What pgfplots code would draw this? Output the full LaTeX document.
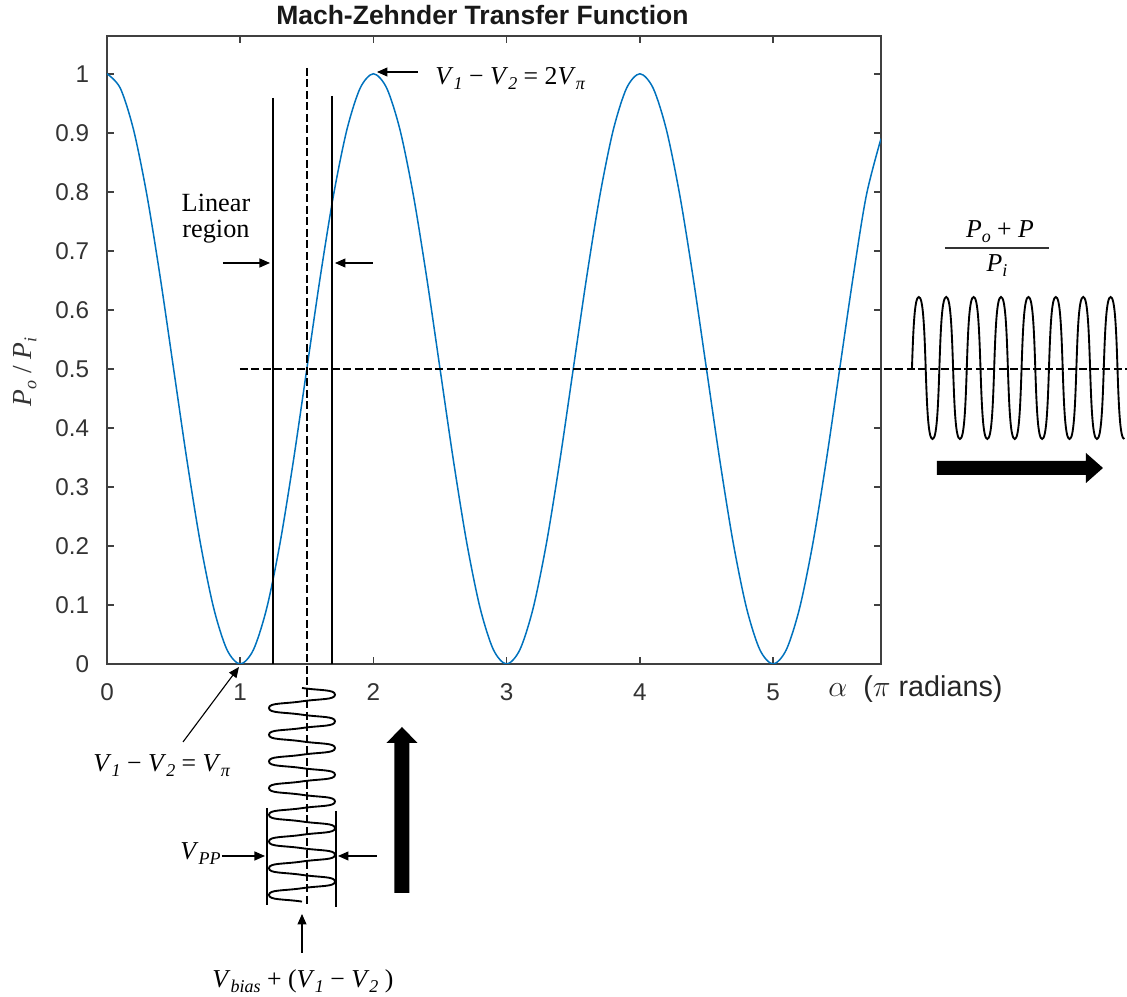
\documentclass[border=0pt]{standalone}
\usepackage{fontspec}
\setmainfont{Liberation Sans}
\newfontfamily\tnr{Liberation Serif}
\usepackage{graphicx}
\usepackage{pgfplots}
\pgfplotsset{compat=1.18}
\usetikzlibrary{arrows.meta}
\definecolor{mblue}{rgb}{0,0.447,0.741}
\definecolor{axgray}{gray}{0.25}
\newcommand{\ann}{\tnr\fontsize{10.3}{12}\selectfont}
\newcommand{\sub}[1]{\raisebox{-0.4ex}{\fontsize{7.2}{8}\selectfont #1}}
\newcommand{\V}[1]{\textit{V}\sub{\textit{#1}}}
\newcommand{\Pp}[1]{\textit{P}\sub{\textit{#1}}}

\begin{document}
\begin{tikzpicture}
\path[use as bounding box] (-42.8pt,-133.2pt) rectangle (408pt,265.6pt);
\begin{axis}[
  at={(0,0)}, anchor=south west,
  scale only axis, width=309.6pt, height=251.2pt,
  xmin=0, xmax=5.81, ymin=0, ymax=1.064,
  xtick={0,1,2,3,4,5},
  ytick={0,0.1,0.2,0.3,0.4,0.5,0.6,0.7,0.8,0.9,1},
  tick align=inside, major tick length=2.8pt,
  axis line style={axgray, line width=0.6pt},
  tick style={axgray, line width=0.6pt},
  ticklabel style={font=\fontsize{9.7}{11}\selectfont, text=black!80},
  /pgf/number format/assume math mode=true,
  yticklabel style={xshift=-3.6pt},
  xticklabel style={yshift=-4.4pt},
  title={Mach-Zehnder Transfer Function},
  every axis title/.style={at={(axis description cs:0.485,1)}, anchor=base, yshift=4.4pt, inner sep=0pt, font=\bfseries\fontsize{10.6}{12}\selectfont, text=black!90},
  xlabel={$\alpha$\ \ ($\pi$ radians)},
  xlabel style={at={(axis description cs:0.9315,-0.0525)}, anchor=base west, inner sep=0pt, font=\fontsize{11.5}{13}\selectfont, text=black!85},
  ylabel={\Pp{o}\ / \Pp{i}},
  ylabel style={at={(axis description cs:-0.106,0.465)}, anchor=center, font=\tnr\fontsize{11}{13}\selectfont, text=black!80},
]
\addplot[mblue, line width=0.6pt, smooth] coordinates {
(0,1)(0.1,0.9755)(0.2,0.9045)(0.3,0.7939)(0.4,0.6545)(0.5,0.5)(0.6,0.3455)(0.7,0.2061)(0.8,0.0955)(0.9,0.0245)
(1,0)(1.1,0.0245)(1.2,0.0955)(1.3,0.2061)(1.4,0.3455)(1.5,0.5)(1.6,0.6545)(1.7,0.7939)(1.8,0.9045)(1.9,0.9755)
(2,1)(2.1,0.9755)(2.2,0.9045)(2.3,0.7939)(2.4,0.6545)(2.5,0.5)(2.6,0.3455)(2.7,0.2061)(2.8,0.0955)(2.9,0.0245)
(3,0)(3.1,0.0245)(3.2,0.0955)(3.3,0.2061)(3.4,0.3455)(3.5,0.5)(3.6,0.6545)(3.7,0.7939)(3.8,0.9045)(3.9,0.9755)
(4,1)(4.1,0.9755)(4.2,0.9045)(4.3,0.7939)(4.4,0.6545)(4.5,0.5)(4.6,0.3455)(4.7,0.2061)(4.8,0.0955)(4.9,0.0245)
(5,0)(5.1,0.0245)(5.2,0.0955)(5.3,0.2061)(5.4,0.3455)(5.5,0.5)(5.6,0.6545)(5.7,0.7939)(5.81,0.89)
};
\end{axis}

% annotations, in reference pixel units (origin top-left)
\begin{scope}[x=0.4pt, y=-0.4pt, shift={(-42.8pt,265.6pt)}]
  % dashed lines
  \draw[black, line width=0.8pt, dash pattern=on 3.2pt off 1.4pt] (307,68) -- (307,905);
  \draw[black, line width=0.8pt, dash pattern=on 3.2pt off 1.4pt] (240,369) -- (1127,369);
  % linear region bounds
  \draw[black, line width=0.6pt] (273,98) -- (273,664);
  \draw[black, line width=0.6pt] (332,96) -- (332,664);
  \node[anchor=base, font=\tnr\fontsize{10.5}{12}\selectfont, inner sep=0pt] at (216,212) {Linear};
  \node[anchor=base, font=\tnr\fontsize{10.5}{12}\selectfont, inner sep=0pt] at (216,238) {region};
  \draw[-{Triangle[length=4.2pt,width=3.6pt]}, line width=0.45pt] (223,263) -- (270,263);
  \draw[-{Triangle[length=4.2pt,width=3.6pt]}, line width=0.45pt] (373,263) -- (335,263);
  % peak annotation
  \draw[-{Triangle[length=4.2pt,width=3.6pt]}, line width=0.45pt] (418,72) -- (377,72);
  \node[anchor=base west, font=\ann, inner sep=0pt] at (435,85) {\V{1} − \V{2} = 2\V{π}};
  % trough annotation
  \draw[-{Triangle[length=4.2pt,width=3.6pt]}, line width=0.45pt] (183,742) -- (239,667);
  \node[anchor=base west, font=\ann, inner sep=0pt] at (93,772) {\V{1} − \V{2} = \V{π}};
  % input drive signal (vertical)
  \draw[black, line width=0.75pt] (302,688)
    \foreach \k in {0,...,7} {
      .. controls (320.15,{688+26.7*\k+2.67}) and (335,{688+26.7*\k+1.34}) .. (335,{688+26.7*\k+6.675})
      .. controls (335,{688+26.7*\k+12.01}) and (320.15,{688+26.7*\k+10.68}) .. (302,{688+26.7*\k+13.35})
      .. controls (283.85,{688+26.7*\k+16.02}) and (269,{688+26.7*\k+14.69}) .. (269,{688+26.7*\k+20.025})
      .. controls (269,{688+26.7*\k+25.36}) and (283.85,{688+26.7*\k+24.03}) .. (302,{688+26.7*\k+26.7})
    };
  \draw[black, line width=0.6pt] (267,808) -- (267,905);
  \draw[black, line width=0.6pt] (336,811) -- (336,907);
  \node[anchor=base east, font=\ann, inner sep=0pt] at (221,860) {\V{PP}};
  \draw[-{Triangle[length=4.2pt,width=3.6pt]}, line width=0.45pt] (222,856) -- (265,856);
  \draw[-{Triangle[length=4.2pt,width=3.6pt]}, line width=0.45pt] (377,856) -- (338,856);
  \draw[-{Triangle[length=4.2pt,width=3.6pt]}, line width=0.45pt] (302,953) -- (302,914);
  \node[anchor=base west, font=\ann, inner sep=0pt] at (212,988) {\V{bias} + (\V{1} − \V{2} )};
  % up fat arrow
  \fill[black] (394.5,893) -- (394.5,743) -- (386.5,743) -- (402,727) -- (417.5,743) -- (409.5,743) -- (409.5,893) -- cycle;
  % output signal
  \node[anchor=base, font=\ann, inner sep=0pt] at (1000,238) {\Pp{o} + \textit{P}};
  \draw[black!80, line width=0.45pt] (945,248) -- (1049,248);
  \node[anchor=base, font=\ann, inner sep=0pt] at (997,272) {\Pp{i}};
  \draw[black, line width=0.75pt] (912,368)
    \foreach \k in {0,...,6} {
      .. controls ({912+27.4*\k+1.37},325.4) and ({912+27.4*\k+2.74},297) .. ({912+27.4*\k+6.85},297)
      .. controls ({912+27.4*\k+10.96},297) and ({912+27.4*\k+12.33},325.4) .. ({912+27.4*\k+13.7},368)
      .. controls ({912+27.4*\k+15.07},410.6) and ({912+27.4*\k+16.44},439) .. ({912+27.4*\k+20.55},439)
      .. controls ({912+27.4*\k+24.66},439) and ({912+27.4*\k+26.03},410.6) .. ({912+27.4*\k+27.4},368)
    }
    .. controls (1105.17,325.4) and (1106.54,297) .. (1110.65,297)
    .. controls (1114.76,297) and (1116.13,325.4) .. (1117.5,368)
    .. controls (1118.87,410.6) and (1120.24,439) .. (1124.35,439);
  % right fat arrow
  \fill[black] (937,461) -- (1086,461) -- (1086,453) -- (1103,468) -- (1086,483) -- (1086,475) -- (937,475) -- cycle;
\end{scope}
\end{tikzpicture}
\end{document}
